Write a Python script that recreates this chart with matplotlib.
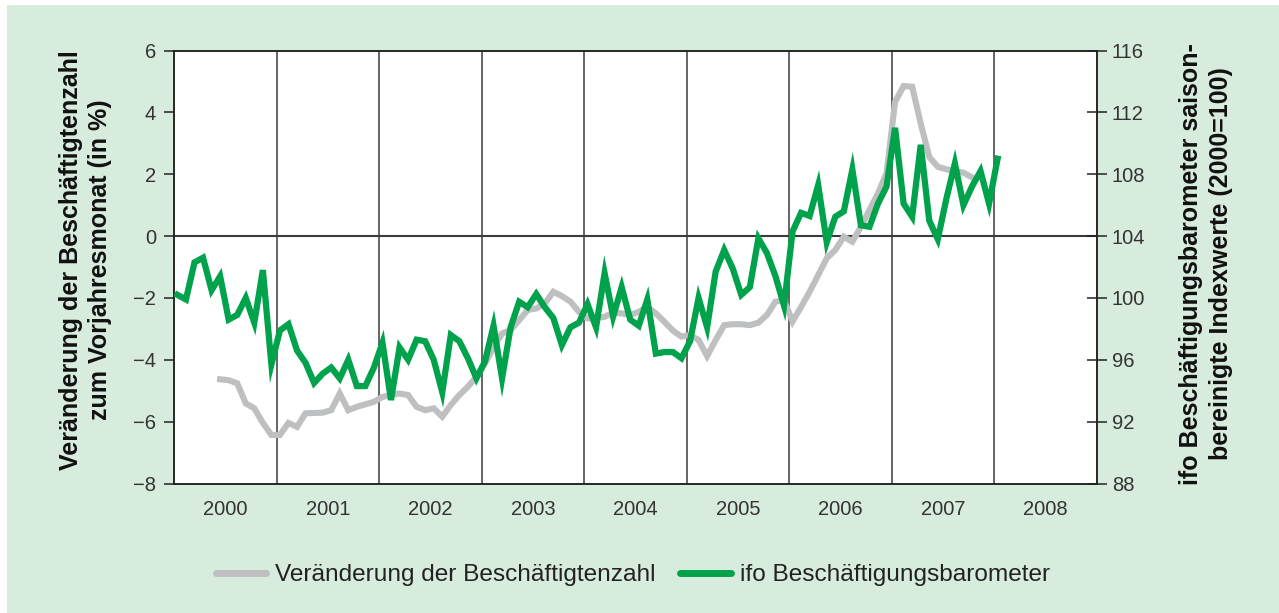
import matplotlib
matplotlib.use("Agg")
import matplotlib.pyplot as plt
from matplotlib.patches import Rectangle
from matplotlib.lines import Line2D
import numpy as np

plt.rcParams['font.family'] = ['Liberation Sans', 'DejaVu Sans']

# ---------------- data ----------------
years = [2000, 2001, 2002, 2003, 2004, 2005, 2006, 2007, 2008]
year_labels = [str(y) for y in years]

# ifo Beschäftigungsbarometer (right axis), monthly from Jan 2000 to Jan 2008
ifo_start_month = 0
ifo_values = [
    100.2, 99.9, 102.3, 102.6, 100.5, 101.4, 98.6, 98.9, 100.0, 98.4, 101.8, 95.7,
    97.9, 98.3, 96.6, 95.8, 94.5, 95.1, 95.5, 94.8, 96.0, 94.3, 94.3, 95.5,
    97.1, 93.4, 96.8, 96.0, 97.3, 97.2, 96.0, 93.9, 97.6, 97.2, 96.1, 94.8,
    95.9, 98.2, 94.8, 98.1, 99.75, 99.4, 100.25, 99.4, 98.7, 96.95, 98.1, 98.4,
    99.6, 98.1, 101.6, 98.8, 100.7, 98.6, 98.2, 99.9, 96.4, 96.5, 96.5, 96.1,
    97.2, 100.0, 98.1, 101.7, 103.1, 101.9, 100.2, 100.7, 103.85, 102.9, 101.4, 99.5,
    104.3, 105.5, 105.3, 107.3, 103.6, 105.25, 105.6, 108.3, 104.7, 104.6, 106.1, 107.2,
    111.0, 106.1, 105.25, 109.9, 105.0, 103.8, 106.4, 108.7, 106.0, 107.2, 108.2, 106.1,
    109.0,
]

# Veränderung der Beschäftigtenzahl (left axis, %), monthly from Jun 2000
empl_start_month = 5
empl_values = [
    -4.63, -4.66, -4.76, -5.41, -5.57, -6.04, -6.43,
    -6.43, -6.04, -6.17, -5.73, -5.72, -5.71, -5.63, -5.09, -5.63, -5.52, -5.44, -5.36,
    -5.20, -5.14, -5.09, -5.14, -5.52, -5.63, -5.57, -5.84, -5.46, -5.14, -4.87, -4.55,
    -4.12, -3.60, -3.15, -3.04, -2.72, -2.39, -2.34, -2.18, -1.80, -1.94, -2.12, -2.45,
    -2.66, -2.66, -2.61, -2.48, -2.50, -2.55, -2.45, -2.29, -2.50, -2.77, -3.06, -3.25,
    -3.20, -3.36, -3.88, -3.36, -2.88, -2.85, -2.85, -2.88, -2.80, -2.55, -2.12, -2.07,
    -2.76, -2.29, -1.80, -1.26, -0.72, -0.45, -0.02, -0.18, 0.30, 0.84, 1.38, 2.03,
    4.34, 4.85, 4.83, 3.64, 2.56, 2.24, 2.16, 2.10, 2.05, 1.90,
]

label_empl = "Veränderung der Beschäftigtenzahl"
label_ifo = "ifo Beschäftigungsbarometer"
ylabel_left = "Veränderung der Beschäftigtenzahl\nzum Vorjahresmonat (in %)"
ylabel_right = "ifo Beschäftigungsbarometer saison-\nbereinigte Indexwerte (2000=100)"

left_ticks = [-8, -6, -4, -2, 0, 2, 4, 6]
right_ticks = [88, 92, 96, 100, 104, 108, 112, 116]

# ---------------- style ----------------
BG = '#d7ecdd'
GREEN = '#00a24b'
GRAY = '#bebfc1'
TXT = '#333333'

W, H = 1279, 613
fig = plt.figure(figsize=(W / 100, H / 100), dpi=100)
fig.patch.set_facecolor('white')
fig.patches.append(Rectangle((7 / W, 0), 1 - 7 / W, 1 - 5 / H, transform=fig.transFigure,
                             facecolor=BG, edgecolor='none', zorder=-10))

ax = fig.add_axes([174 / W, 1 - 483.5 / H, (1096.7 - 174) / W, (483.5 - 50.5) / H])
ax.set_facecolor('white')

def month_x(start, n):
    return [2000 + (start + i + 0.4) / 12.0 for i in range(n)]

x_empl = month_x(empl_start_month, len(empl_values))
x_ifo = month_x(ifo_start_month, len(ifo_values))

ax.plot(x_empl, empl_values, color=GRAY, lw=4.4, solid_joinstyle='miter', zorder=3)
ax.set_xlim(2000, 2009)
ax.set_ylim(-8, 6)
ax.set_yticks(left_ticks)
ax.set_yticklabels(['\u2212' + str(-t) if t < 0 else str(t) for t in left_ticks])

# year gridlines and labels
ax.set_xticks(list(range(2001, 2009)))
ax.set_xticklabels([])
ax.set_xticks([y + 0.5 for y in years], minor=True)
ax.set_xticklabels(year_labels, minor=True)
ax.tick_params(axis='x', which='both', length=0, pad=12, labelsize=14.5, labelcolor=TXT)
for yv in range(2001, 2009):
    ax.axvline(yv, color='#3a3a3a', lw=1.1, zorder=1)
ax.axhline(0, color='#3a3a3a', lw=1.5, zorder=1)

ax.tick_params(axis='y', direction='out', length=7, width=1.1, pad=6,
               labelsize=14.5, labelcolor=TXT, color='#222222')
for s in ax.spines.values():
    s.set_color('#222222')
    s.set_linewidth(1.1)

ax2 = ax.twinx()
ax2.plot(x_ifo, ifo_values, color=GREEN, lw=4.5, solid_joinstyle='miter', zorder=4)
ax2.set_ylim(88, 116)
ax2.set_yticks(right_ticks)
ax2.tick_params(axis='y', direction='inout', length=14, width=1.1, pad=4,
                labelsize=14.5, labelcolor=TXT, color='#222222')
for s in ax2.spines.values():
    s.set_color('#222222')
    s.set_linewidth(1.1)

fig.text(85.5 / W, 1 - 260 / H, ylabel_left, rotation=90, ha='center', va='center',
         fontsize=18, fontweight='bold', color='#111111', linespacing=1.3)
fig.text(1206 / W, 1 - 264 / H, ylabel_right, rotation=90, ha='center', va='center',
         fontsize=18, fontweight='bold', color='#111111', linespacing=1.3)

handles = [Line2D([], [], color=GRAY, lw=5, solid_capstyle='round'),
           Line2D([], [], color=GREEN, lw=5, solid_capstyle='round')]
fig.legend(handles, [label_empl, label_ifo], loc='center', bbox_to_anchor=(633 / W, 1 - 575 / H),
           ncol=2, frameon=False, fontsize=17.6, handlelength=2.05, handletextpad=0.4,
           columnspacing=1.0, labelcolor='#222222')

fig.savefig('out.png', dpi=100, facecolor=fig.get_facecolor())
